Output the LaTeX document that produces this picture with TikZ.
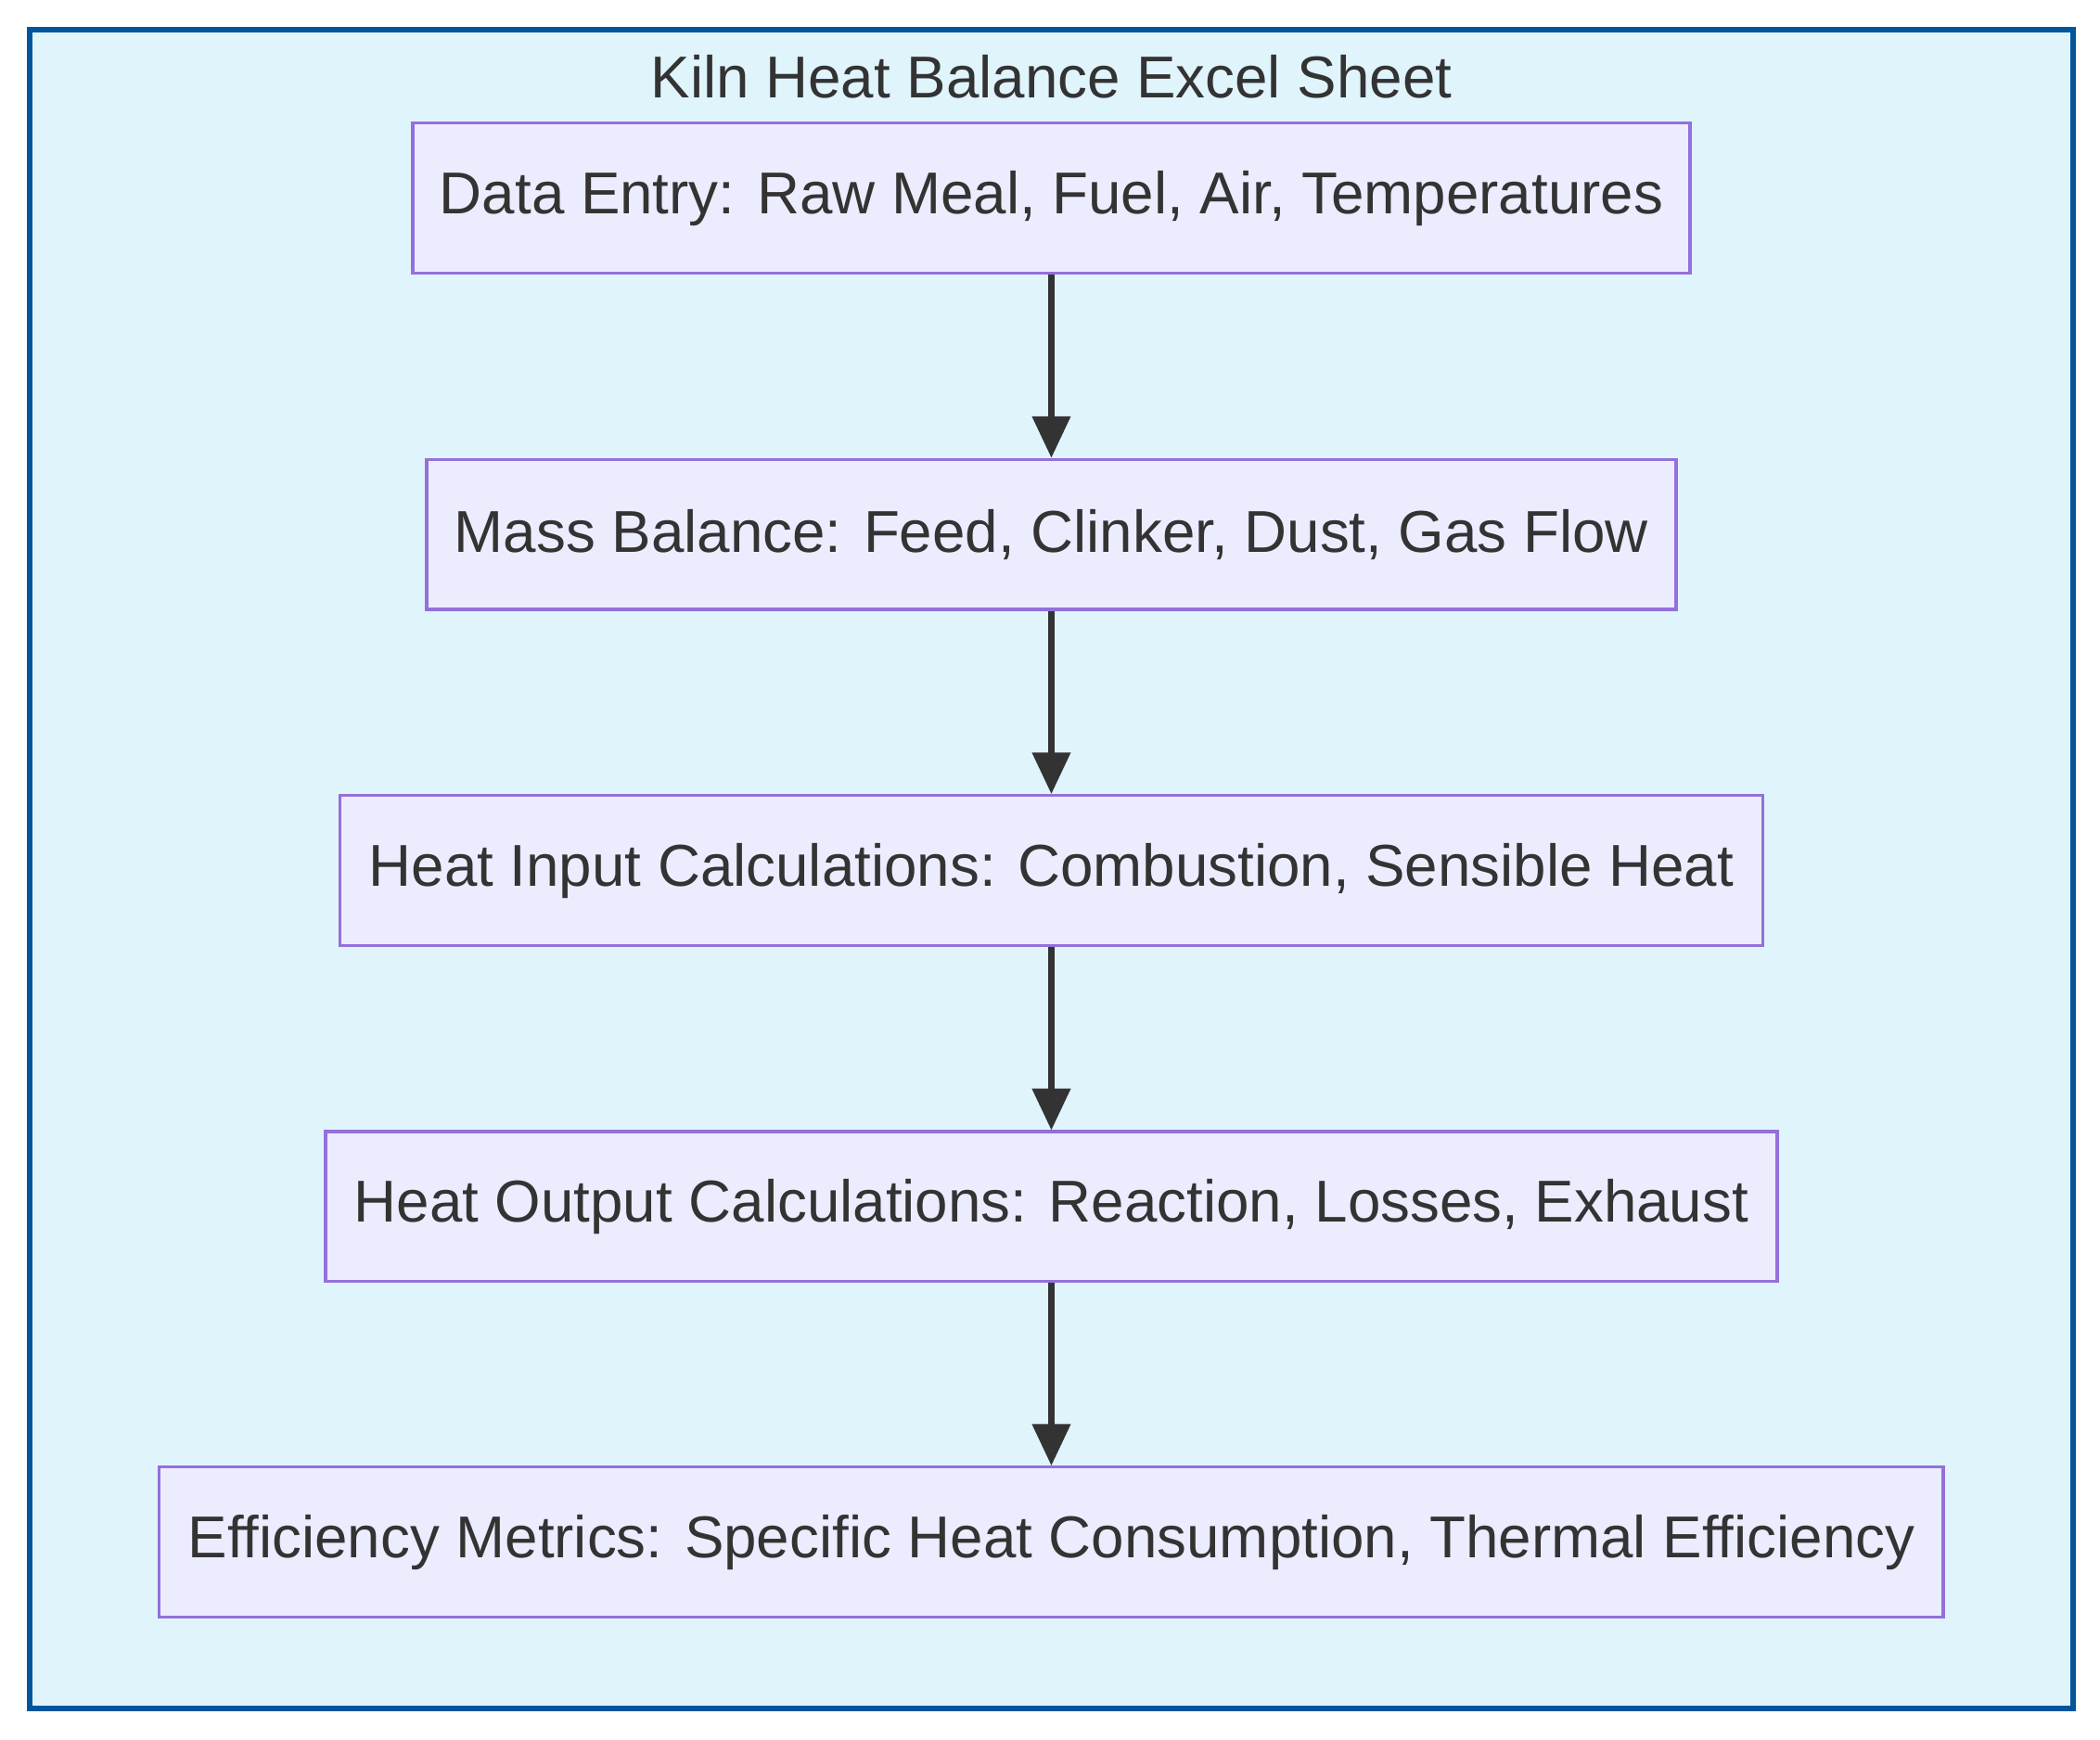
\documentclass[tikz,border=0pt]{standalone}
\usepackage{fontspec}
\setmainfont{Liberation Sans}
\usetikzlibrary{arrows.meta, positioning}
\definecolor{framefill}{HTML}{E0F4FC}
\definecolor{framedraw}{HTML}{00559B}
\definecolor{boxfill}{HTML}{ECECFF}
\definecolor{boxdraw}{HTML}{9370DB}
\definecolor{textgray}{HTML}{333333}
\tikzset{
  calcbox/.style={draw=boxdraw, fill=boxfill, line width=1.3pt, minimum height=2.24cm,
    inner xsep=0.4cm, text=textgray, font=\fontsize{25.1}{29}\selectfont},
  flow/.style={-{Triangle[length=0.62cm, width=0.56cm]}, line width=2.4pt, draw=textgray}
}
\begin{document}
\begin{tikzpicture}
  \useasboundingbox (0,0) rectangle (31.36,-25.98);
  % Frame
  \draw[fill=framefill, draw=framedraw, line width=2.4pt] (0.44,-0.44) rectangle (30.96,-25.52);
  \node[text=textgray, font=\fontsize{25.1}{29}\selectfont] (title) at (15.7,-1.14) {Kiln Heat Balance Excel Sheet};

  % Steps
  \node[calcbox, minimum width=19.04cm] (entry) at (15.7,-2.96) {Data Entry: Raw Meal, Fuel, Air, Temperatures};
  \node[calcbox, minimum width=18.66cm] (mass) at (15.7,-7.98) {Mass Balance: Feed, Clinker, Dust, Gas Flow};
  \node[calcbox, minimum width=21.24cm] (input) at (15.7,-13.00) {Heat Input Calculations: Combustion, Sensible Heat};
  \node[calcbox, minimum width=21.68cm] (output) at (15.7,-18.02) {Heat Output Calculations: Reaction, Losses, Exhaust};
  \node[calcbox, minimum width=26.64cm] (metrics) at (15.7,-23.03) {Efficiency Metrics: Specific Heat Consumption, Thermal Efficiency};

  % Arrows
  \draw[flow] (entry) -- (mass);
  \draw[flow] (mass) -- (input);
  \draw[flow] (input) -- (output);
  \draw[flow] (output) -- (metrics);
\end{tikzpicture}
\end{document}
